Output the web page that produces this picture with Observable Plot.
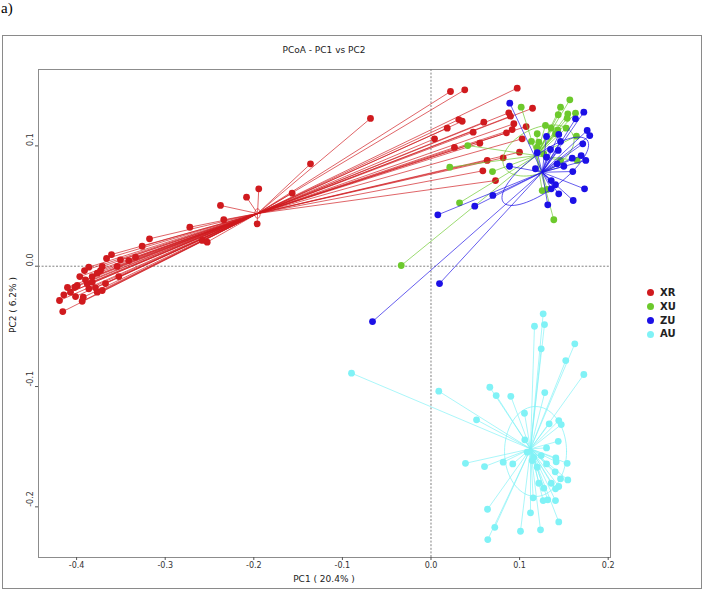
<!DOCTYPE html>
<html><head><meta charset="utf-8">
<script src="https://cdn.jsdelivr.net/npm/d3@7"></script>
<script src="https://cdn.jsdelivr.net/npm/@observablehq/plot@0.6"></script>
<style>
body{margin:0;background:#fff;}
#wrap{position:relative;width:705px;height:595px;font-family:"DejaVu Sans",sans-serif;color:#222;overflow:hidden;}
#wrap svg{position:absolute;left:0;top:0;}
.abs{position:absolute;white-space:nowrap;}
#box{position:absolute;left:2px;top:35px;width:700px;height:554px;border:1px solid #8a8a8a;box-sizing:border-box;}
#tag{left:1px;top:0px;font-family:"Liberation Serif","DejaVu Serif","Times New Roman",serif;font-weight:normal;font-size:15px;color:#000;}
#title{left:0;width:648px;top:45px;text-align:center;font-size:9px;}
#xlab{left:38px;width:572px;top:574px;text-align:center;font-size:9px;}
#ylab{left:13px;top:305px;font-size:9px;transform:translate(-50%,-50%) rotate(-90deg);}
#legend{left:647px;top:286px;font-size:10px;font-weight:bold;line-height:13.8px;}
#legend .row{display:flex;align-items:center;}
#legend .dot{width:7px;height:7px;border-radius:50%;margin-right:6px;}
</style>
</head><body>
<div id="wrap">
  <div id="box"></div>
  <div id="tag" class="abs">a)</div>
  <div id="title" class="abs">PCoA - PC1 vs PC2</div>
  <div id="xlab" class="abs">PC1 ( 20.4% )</div>
  <div id="ylab" class="abs">PC2 ( 6.2% )</div>
  <div id="legend" class="abs"></div>
</div>
<script>
const groups = ["XR", "XU", "ZU", "AU"];
const colors = ["#d01a1e", "#6cc92c", "#1c10e6", "#80f2f6"];
const xTicks = [-0.4, -0.3, -0.2, -0.1, 0.0, 0.1, 0.2];
const yTicks = [-0.2, -0.1, 0.0, 0.1];

const xrPC1 = [-0.3606,-0.3862,-0.3964,-0.390,-0.3824,-0.3767,-0.373,-0.3711,-0.3993,-0.402,-0.4069,-0.4144,-0.4193,-0.3937,-0.3925,-0.3862,-0.3787,-0.3767,-0.3711,-0.388,-0.3824,-0.4156,-0.3524,-0.3505,-0.3411,-0.3335,-0.3542,-0.3662,-0.3911,-0.4103,-0.3674,-0.4012,
  -0.326,-0.3177,-0.2722,-0.2582,-0.2526,-0.2376,-0.2339,-0.2082,-0.1944,-0.1962,-0.1567,-0.136,-0.0683,
  0.022,0.0381,0.0973,0.1146,0.0878,0.0897,0.0314,0.0352,0.0596,0.0935,0.1074,0.0916,0.0183,0.0476,0.0852,0.004,0.1029,0.0551,0.0265,0.0815,0.0999,0.0634,0.0585,0.0728];
const xrPC2 = [0.0097,-0.0008,-0.0086,-0.0113,-0.0086,-0.0058,-0.0036,-0.0002,-0.016,-0.0175,-0.0216,-0.0238,-0.0285,-0.0291,-0.0258,-0.0188,-0.018,-0.0216,-0.0202,-0.0146,-0.0133,-0.0377,-0.0086,0.0053,0.0047,0.0075,-0.0002,0.0064,-0.0036,-0.0177,-0.0144,-0.0252,
  0.0166,0.0228,0.0324,0.0214,0.02,0.0505,0.0386,0.0574,0.0643,0.0352,0.0607,0.0851,0.1228,
  0.1452,0.1466,0.148,0.1313,0.1275,0.1247,0.1219,0.1205,0.1197,0.1184,0.1161,0.1136,0.1147,0.1114,0.1109,0.1059,0.1059,0.1022,0.0987,0.0901,0.0948,0.0879,0.0793,0.0712];

const xuPC1 = [0.1567,0.1018,0.1462,0.1544,0.1631,0.1436,0.1537,0.1292,0.1357,0.1431,0.1526,0.1199,0.1405,0.1642,0.1134,0.1217,0.0415,0.1273,0.1462,0.165,0.0212,0.0694,0.1255,0.1312,0.0322,0.1386,0.1199,-0.0336];
const xuPC2 = [0.1383,0.1322,0.1322,0.1267,0.1272,0.1259,0.123,0.117,0.1147,0.1134,0.1147,0.1101,0.1101,0.1081,0.1037,0.1031,0.1003,0.0934,0.0879,0.0879,0.0823,0.0787,0.0629,0.0638,0.0527,0.0386,0.0989,0.0006];

const zuPC1 = [0.0889,0.1725,0.1631,0.1763,0.1792,0.1442,0.1304,0.1713,0.1462,0.1349,0.1436,0.1199,0.1304,0.1594,0.1695,0.1747,0.1424,0.1499,0.0886,0.1179,0.16,0.1357,0.1405,0.1357,0.1733,0.1442,0.1605,0.1318,0.0698,0.0494,0.0077,0.0096,-0.066];
const zuPC2 = [0.1355,0.128,0.1225,0.1128,0.1086,0.1095,0.1078,0.1017,0.1037,0.097,0.0962,0.0943,0.0906,0.0898,0.092,0.0879,0.0851,0.0831,0.0831,0.081,0.0787,0.0712,0.0677,0.0643,0.0643,0.0602,0.0546,0.051,0.0588,0.0499,0.0427,-0.0144,-0.046];

const auPC1 = [0.1266,0.1168,0.1281,0.1244,0.1623,0.1521,0.1725,-0.0897,0.0088,0.0664,0.0736,0.0901,0.1284,0.1055,0.0514,0.1442,0.147,0.1334,0.1436,0.1304,0.1059,0.0389,0.0604,0.0815,0.0923,0.1409,0.1413,0.1537,0.1244,0.116,0.1304,0.1402,0.1462,0.1544,0.1442,0.1405,0.1357,0.1217,0.1273,0.1153,0.1266,0.1318,0.1405,0.1123,0.0638,0.072,0.0641,0.101,0.1236,0.1442,0.1142,0.1199,0.1086];
const auPC2 = [-0.0396,-0.0499,-0.0485,-0.0687,-0.0645,-0.0784,-0.09,-0.0889,-0.1039,-0.1006,-0.1075,-0.1081,-0.105,-0.1222,-0.1277,-0.1283,-0.1316,-0.131,-0.1455,-0.151,-0.1443,-0.1638,-0.1665,-0.1629,-0.1643,-0.1593,-0.1626,-0.1638,-0.1574,-0.1588,-0.1643,-0.1709,-0.1767,-0.1776,-0.1831,-0.185,-0.1804,-0.1804,-0.1845,-0.1925,-0.1948,-0.1942,-0.1948,-0.205,-0.202,-0.217,-0.2272,-0.2203,-0.2191,-0.2125,-0.1615,-0.1671,-0.1546];

// group centroids (spider centres)
const centroidPC1 = [-0.1958, 0.119, 0.1255, 0.1123];
const centroidPC2 = [0.0438, 0.092, 0.0781, -0.1518];
// ellipses: centre and two semi-axis vectors (data units)
const ellCx = [-0.1958, 0.1213, 0.129, 0.118];
const ellCy = [0.0438, 0.0962, 0.0789, -0.154];
const ellAx = [0.003, 0.0388, 0.0474, 0.035];
const ellAy = [0.0, 0.0133, 0.0257, 0.0];
const ellBx = [0.0, -0.0105, 0.012, 0.0];
const ellBy = [0.004, 0.0166, -0.0121, 0.0374];

const series = [[xrPC1, xrPC2], [xuPC1, xuPC2], [zuPC1, zuPC2], [auPC1, auPC2]];
const fmt = d => d.toFixed(1);

const marks = [
  Plot.frame({stroke: "#8c8c8c"}),
  Plot.ruleX([0], {stroke: "#808080", strokeDasharray: "2,1.6"}),
  Plot.ruleY([0], {stroke: "#808080", strokeDasharray: "2,1.6"}),
  Plot.axisX({ticks: xTicks, tickSize: 3, tickPadding: 1.5, tickFormat: fmt, label: null, fontSize: 8, stroke: "#555"}),
  Plot.axisY({ticks: yTicks, tickSize: 3, tickFormat: () => "", label: null, stroke: "#555"}),
  Plot.text(yTicks, {y: d => d, frameAnchor: "left", dx: -8.5, rotate: -90, text: fmt, fontSize: 8, fill: "#333"})
];

series.forEach(([px, py], g) => {
  const n = Math.min(px.length, py.length);
  const pts = d3.range(n).map(i => ({x: px[i], y: py[i], cx: centroidPC1[g], cy: centroidPC2[g], group: groups[g]}));
  const ell = d3.range(0, 73).map(k => {
    const t = (k / 72) * 2 * Math.PI;
    return {x: ellCx[g] + ellAx[g] * Math.cos(t) + ellBx[g] * Math.sin(t),
            y: ellCy[g] + ellAy[g] * Math.cos(t) + ellBy[g] * Math.sin(t), group: groups[g]};
  });
  marks.push(
    Plot.link(pts, {x1: "cx", y1: "cy", x2: "x", y2: "y", stroke: "group", strokeWidth: 0.9, strokeOpacity: 0.75}),
    Plot.line(ell, {x: "x", y: "y", stroke: "group", strokeWidth: 0.9, strokeOpacity: 0.8}),
    Plot.dot(pts, {x: "x", y: "y", fill: "group", r: 3.4, stroke: "none"})
  );
});

const plot = Plot.plot({
  width: 705, height: 595,
  marginLeft: 38, marginRight: 95, marginTop: 69, marginBottom: 38,
  x: {domain: [-0.443, 0.2026]},
  y: {domain: [-0.2421, 0.1635]},
  color: {domain: groups, range: colors},
  style: {fontFamily: "DejaVu Sans", fontSize: "8px", color: "#333", background: "transparent"},
  marks
});
document.getElementById("wrap").appendChild(plot);

const legend = document.getElementById("legend");
groups.forEach((g, i) => {
  const row = document.createElement("div");
  row.className = "row";
  row.innerHTML = `<span class="dot" style="background:${colors[i]}"></span><span>${g}</span>`;
  legend.appendChild(row);
});
</script>
</body></html>
